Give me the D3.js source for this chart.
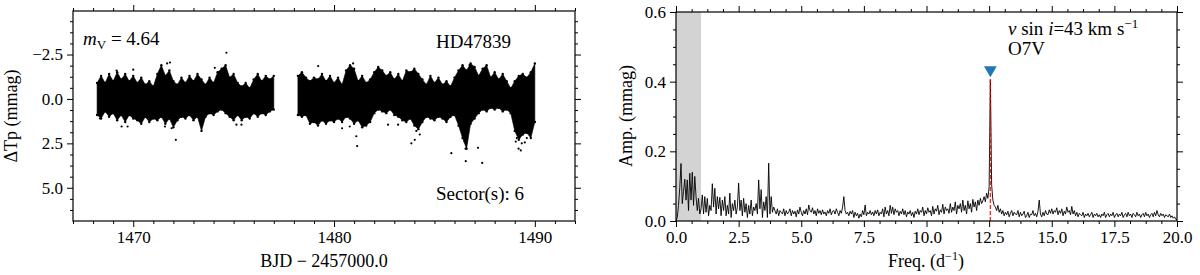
<!DOCTYPE html>
<html>
<head>
<meta charset="utf-8">
<script src="https://cdn.jsdelivr.net/npm/d3@7"></script>
<style>
body { margin: 0; background: #fff; }
svg text { font-family: "Liberation Serif", "DejaVu Serif", serif; fill: #000; }
.tick line { stroke: #000; stroke-width: 1; }
</style>
</head>
<body>
<svg id="fig" width="1200" height="275"></svg>
<script>
let binStep = 0.2
let seg1Start = 1468.2
let seg1Hi = [-0.9, -1.3, -0.9, -1.4, -1.0, -1.5, -1.1, -1.4, -1.0, -1.3,
    -0.9, -1.2, -0.8, -1.0, -0.7, -1.4, -1.9, -1.3, -1.6, -1.0,
    -0.8, -1.2, -0.9, -1.3, -1.0, -1.4, -1.1, -0.8, -1.2, -0.9,
    -1.5, -1.7, -1.9, -1.2, -1.4, -0.9, -0.7, -0.9, -0.6, -1.1,
    -1.4, -1.0, -1.3, -1.1, -1.3]
let seg1Lo = [0.9, 1.1, 0.7, 1.0, 0.8, 1.2, 0.9, 1.3, 0.9, 1.1,
    1.2, 1.4, 1.0, 1.3, 1.1, 1.2, 1.0, 1.4, 1.1, 1.6,
    1.2, 1.0, 1.1, 0.9, 1.2, 1.0, 1.8, 1.0, 0.8, 0.9,
    0.7, 0.6, 0.8, 1.0, 1.2, 0.9, 1.2, 1.0, 1.1, 0.8,
    1.0, 0.8, 0.9, 0.7, 0.6]
let seg2Start = 1478.2
let seg2Hi = [-1.3, -1.5, -1.2, -1.0, -1.2, -1.1, -1.4, -1.0, -1.3, -0.9,
    -1.2, -0.8, -1.6, -1.9, -1.7, -1.0, -1.3, -0.9, -1.1, -1.5,
    -1.8, -1.6, -1.3, -1.5, -1.1, -1.4, -1.0, -1.6, -1.5, -1.7,
    -1.4, -1.1, -0.8, -1.3, -0.9, -1.2, -0.8, -1.0, -0.7, -1.2,
    -1.6, -1.9, -1.6, -2.0, -1.8, -1.3, -1.7, -1.9, -1.2, -1.5,
    -1.1, -1.4, -1.0, -0.6, -1.0, -1.3, -1.4, -1.2, -1.5, -2.0]
let seg2Lo = [0.9, 1.0, 0.9, 1.4, 1.3, 1.5, 1.2, 1.4, 1.2, 1.3,
    1.1, 1.3, 1.0, 1.1, 1.4, 1.2, 1.6, 1.5, 1.3, 0.8,
    0.6, 0.7, 0.8, 0.6, 0.9, 1.0, 1.2, 1.3, 1.1, 1.5,
    1.7, 1.3, 1.0, 1.1, 1.2, 1.0, 1.1, 1.3, 1.0, 0.9,
    1.5, 2.2, 2.8, 1.4, 1.1, 0.8, 0.6, 0.7, 0.5, 0.6,
    0.5, 0.7, 0.6, 0.8, 1.8, 2.3, 2.0, 1.9, 2.2, 1.3]
// isolated points outside the cloud
let outT = [1468.34, 1469.17, 1469.42, 1469.72, 1470.0, 1471.58, 1471.69, 1471.83, 1471.91, 1472.12, 1474.06, 1474.64, 1475.14, 1475.39,
    1479.21, 1480.4, 1480.78, 1480.95, 1481.11, 1481.15, 1482.69, 1483.19, 1483.85, 1484.02, 1484.1, 1484.27, 1485.84,
    1486.5, 1486.55, 1486.56, 1486.75, 1487.17, 1487.38, 1489.05, 1489.1, 1489.19, 1489.3, 1489.35, 1489.5, 1489.6]
let outV = [1.1, -1.6, 1.55, 1.55, -1.65, 1.55, -2.0, -2.05, 1.65, 2.3, -1.75, -2.6, 1.45, 1.45,
    -1.85, 1.65, 1.55, -2.0, 2.1, 2.65, 1.45, 1.45, 2.5, 2.3, 1.8, 2.0, 3.05,
    2.4, 2.8, 3.5, -1.9, 2.75, 3.6, 2.4, 2.2, 2.8, 2.9, 2.5, 2.45, 2.2]

// amplitude spectrum, 0.05 d^-1 grid from 0 to 20, mmag
let freqStep = 0.05
let amp = [
    0.000, 0.010, 0.045, 0.095, 0.165, 0.050, 0.085, 0.120, 0.060, 0.118, 0.030, 0.137, 0.060, 0.140, 0.045, 0.128, 0.070, 0.030, 0.065, 0.020,
    0.035, 0.075, 0.020, 0.070, 0.025, 0.065, 0.015, 0.045, 0.030, 0.107, 0.040, 0.094, 0.020, 0.070, 0.035, 0.068, 0.015, 0.060, 0.030, 0.070,
    0.015, 0.045, 0.020, 0.080, 0.010, 0.050, 0.030, 0.060, 0.020, 0.040, 0.109, 0.030, 0.060, 0.015, 0.065, 0.025, 0.050, 0.010, 0.045, 0.020,
    0.060, 0.015, 0.040, 0.030, 0.050, 0.020, 0.118, 0.035, 0.090, 0.010, 0.055, 0.030, 0.070, 0.010, 0.166, 0.020, 0.070, 0.025, 0.040, 0.030,
    0.020, 0.035, 0.015, 0.030, 0.025, 0.020, 0.035, 0.015, 0.030, 0.020, 0.025, 0.035, 0.015, 0.030, 0.020, 0.028, 0.012, 0.032, 0.020, 0.040,
    0.025, 0.015, 0.030, 0.020, 0.035, 0.018, 0.046, 0.030, 0.025, 0.038, 0.020, 0.030, 0.015, 0.035, 0.022, 0.030, 0.018, 0.032, 0.020, 0.026,
    0.015, 0.030, 0.022, 0.035, 0.018, 0.028, 0.030, 0.020, 0.035, 0.025, 0.015, 0.030, 0.022, 0.040, 0.070, 0.030, 0.020, 0.025, 0.015, 0.028,
    0.020, 0.030, 0.010, 0.025, 0.015, 0.022, 0.008, 0.020, 0.012, 0.030, 0.018, 0.046, 0.015, 0.025, 0.020, 0.030, 0.018, 0.026, 0.015, 0.030,
    0.020, 0.032, 0.015, 0.025, 0.020, 0.035, 0.012, 0.040, 0.020, 0.030, 0.015, 0.045, 0.022, 0.040, 0.018, 0.035, 0.025, 0.030, 0.015, 0.028,
    0.020, 0.035, 0.018, 0.030, 0.012, 0.026, 0.020, 0.030, 0.015, 0.025, 0.010, 0.028, 0.020, 0.035, 0.018, 0.030, 0.025, 0.040, 0.015, 0.030,
    0.020, 0.038, 0.025, 0.030, 0.015, 0.042, 0.020, 0.035, 0.028, 0.045, 0.018, 0.032, 0.025, 0.048, 0.020, 0.040, 0.030, 0.035, 0.022, 0.050,
    0.025, 0.040, 0.030, 0.055, 0.020, 0.045, 0.035, 0.050, 0.025, 0.060, 0.030, 0.045, 0.020, 0.058, 0.035, 0.050, 0.025, 0.062, 0.040, 0.055,
    0.030, 0.060, 0.045, 0.065, 0.050, 0.058, 0.070, 0.055, 0.080, 0.065, 0.098, 0.405, 0.104, 0.060, 0.045, 0.040, 0.030, 0.045, 0.025, 0.035,
    0.020, 0.030, 0.015, 0.025, 0.018, 0.028, 0.012, 0.022, 0.030, 0.015, 0.025, 0.020, 0.018, 0.030, 0.012, 0.025, 0.015, 0.020, 0.028, 0.010,
    0.015, 0.025, 0.010, 0.020, 0.018, 0.030, 0.015, 0.022, 0.012, 0.028, 0.060, 0.020, 0.012, 0.025, 0.015, 0.030, 0.020, 0.018, 0.032, 0.022,
    0.035, 0.020, 0.030, 0.025, 0.038, 0.018, 0.030, 0.022, 0.035, 0.015, 0.028, 0.020, 0.040, 0.025, 0.030, 0.018, 0.042, 0.020, 0.030, 0.015,
    0.025, 0.012, 0.022, 0.018, 0.015, 0.025, 0.010, 0.020, 0.015, 0.022, 0.012, 0.018, 0.025, 0.010, 0.020, 0.015, 0.022, 0.012, 0.018, 0.010,
    0.020, 0.015, 0.025, 0.010, 0.018, 0.022, 0.012, 0.020, 0.015, 0.025, 0.010, 0.018, 0.022, 0.012, 0.020, 0.015, 0.025, 0.010, 0.018, 0.022,
    0.012, 0.025, 0.015, 0.020, 0.010, 0.022, 0.018, 0.012, 0.025, 0.015, 0.020, 0.010, 0.018, 0.022, 0.012, 0.025, 0.015, 0.020, 0.010, 0.018,
    0.022, 0.012, 0.025, 0.015, 0.030, 0.018, 0.012, 0.022, 0.015, 0.020, 0.010, 0.018, 0.015, 0.012, 0.020, 0.010, 0.015, 0.008, 0.012, 0.005,
    0.005]
let peakFreq = 12.55
let peakAmp = 0.413
let maskEnd = 1.0

// ticks
let lcXTicks = [1470, 1480, 1490]
let lcYTicks = [-2.5, 0, 2.5, 5]
let pgXTicks = [0, 2.5, 5, 7.5, 10, 12.5, 15, 17.5, 20]
let pgYTicks = [0, 0.2, 0.4, 0.6]

let serif = '"Liberation Serif", "DejaVu Serif", serif'
let svg = d3.select('#fig')

function minorTicks(scale, step, majors) {
    let d = scale.domain()
    let lo = Math.min(d[0], d[1]), hi = Math.max(d[0], d[1])
    return d3.range(Math.ceil(lo / step) * step, hi + 1e-9, step)
        .filter(v => !majors.some(m => Math.abs(m - v) < 1e-6))
}

function drawFrame(g, x, y, xt, xstep, xf, yt, ystep, yf) {
    let x0 = d3.min(x.range()), x1 = d3.max(x.range())
    let y0 = d3.min(y.range()), y1 = d3.max(y.range())
    let xm = minorTicks(x, xstep, xt)
    let ym = minorTicks(y, ystep, yt)
    let ax = g.append('g')
    // bottom and left carry the labels
    ax.append('g').attr('transform', 'translate(0,' + y1 + ')')
        .call(d3.axisBottom(x).tickValues(xt).tickFormat(xf).tickSize(6).tickPadding(4))
    ax.append('g').attr('transform', 'translate(0,' + y1 + ')')
        .call(d3.axisBottom(x).tickValues(xm).tickFormat('').tickSize(3))
    ax.append('g').attr('transform', 'translate(0,' + y0 + ')')
        .call(d3.axisTop(x).tickValues(xt).tickFormat('').tickSize(6))
    ax.append('g').attr('transform', 'translate(0,' + y0 + ')')
        .call(d3.axisTop(x).tickValues(xm).tickFormat('').tickSize(3))
    ax.append('g').attr('transform', 'translate(' + x0 + ',0)')
        .call(d3.axisLeft(y).tickValues(yt).tickFormat(yf).tickSize(6).tickPadding(4))
    ax.append('g').attr('transform', 'translate(' + x0 + ',0)')
        .call(d3.axisLeft(y).tickValues(ym).tickFormat('').tickSize(3))
    ax.append('g').attr('transform', 'translate(' + x1 + ',0)')
        .call(d3.axisRight(y).tickValues(yt).tickFormat('').tickSize(6))
    ax.append('g').attr('transform', 'translate(' + x1 + ',0)')
        .call(d3.axisRight(y).tickValues(ym).tickFormat('').tickSize(3))
    ax.selectAll('.domain').remove()
    ax.selectAll('g').attr('font-family', null).attr('font-size', null)
    ax.selectAll('.tick text')
        .style('font-family', serif)
        .style('font-size', '17px')
    ax.append('rect')
        .attr('x', x0).attr('y', y0)
        .attr('width', x1 - x0).attr('height', y1 - y0)
        .attr('fill', 'none').attr('stroke', '#000').attr('stroke-width', 1.2)
}

// ---------- left panel: light curve ----------
let xL = d3.scaleLinear().domain([1467, 1492]).range([73, 575])
let yL = d3.scaleLinear().domain([-4.95, 6.87]).range([11, 221])
let gL = svg.append('g')

let band = d3.area()
    .x(d => xL(d.t))
    .y0(d => yL(d.lo))
    .y1(d => yL(d.hi))
    .curve(d3.curveLinear)

let segs = [[seg1Start, seg1Hi, seg1Lo], [seg2Start, seg2Hi, seg2Lo]]
segs.forEach(s => {
    let rows = s[1].map((h, i) => ({ t: s[0] + i * binStep, hi: h, lo: s[2][i] }))
    gL.append('path')
        .datum(rows)
        .attr('d', band)
        .attr('fill', '#000')
        .attr('stroke', '#000')
        .attr('stroke-width', 0.6)
    // edge points of each bin, to keep the cloud ragged
    gL.selectAll(null)
        .data(rows.flatMap(d => [{ t: d.t, v: d.hi }, { t: d.t, v: d.lo }]))
        .enter().append('circle')
        .attr('cx', d => xL(d.t))
        .attr('cy', d => yL(d.v))
        .attr('r', 1.2)
        .attr('fill', '#000')
})

gL.selectAll('.outlier')
    .data(outT.map((t, i) => ({ t: t, v: outV[i] })))
    .enter().append('circle')
    .attr('class', 'outlier')
    .attr('cx', d => xL(d.t))
    .attr('cy', d => yL(d.v))
    .attr('r', 1.1)
    .attr('fill', '#000')

drawFrame(gL, xL, yL, lcXTicks, 1, d3.format('d'), lcYTicks, 0.625, d3.format('.1f'))

gL.append('text')
    .attr('x', 83).attr('y', 45)
    .attr('font-size', 19)
    .call(t => {
        t.append('tspan').attr('font-style', 'italic').text('m')
        t.append('tspan').attr('font-size', 13).attr('dy', 4).text('V')
        t.append('tspan').attr('dy', -4).text(' = 4.64')
    })
gL.append('text').attr('x', 436).attr('y', 48).attr('font-size', 19).text('HD47839')
gL.append('text').attr('x', 436).attr('y', 200).attr('font-size', 19).text('Sector(s): 6')
gL.append('text')
    .attr('x', 324).attr('y', 267)
    .attr('text-anchor', 'middle').attr('font-size', 18)
    .text('BJD \u2212 2457000.0')
gL.append('text')
    .attr('transform', 'translate(17,116) rotate(-90)')
    .attr('text-anchor', 'middle').attr('font-size', 18)
    .text('\u0394Tp (mmag)')

// ---------- right panel: amplitude spectrum ----------
let xR = d3.scaleLinear().domain([0, 20]).range([676, 1177])
let yR = d3.scaleLinear().domain([0, 0.6]).range([221, 12])
let gR = svg.append('g')

gR.append('rect')
    .attr('x', xR(0)).attr('y', yR(0.6))
    .attr('width', xR(maskEnd) - xR(0))
    .attr('height', yR(0) - yR(0.6))
    .attr('fill', '#d3d3d3')

let spec = amp.map((a, i) => ({ f: i * freqStep, a: a }))
gR.append('path')
    .datum(spec)
    .attr('d', d3.line().x(d => xR(d.f)).y(d => yR(d.a)))
    .attr('fill', 'none')
    .attr('stroke', '#000')
    .attr('stroke-width', 0.9)

gR.append('line')
    .attr('x1', xR(peakFreq)).attr('x2', xR(peakFreq))
    .attr('y1', yR(0)).attr('y2', yR(peakAmp))
    .attr('stroke', 'red')
    .attr('stroke-opacity', 0.85)
    .attr('stroke-width', 1.4)
    .attr('stroke-dasharray', '4,2')

gR.append('path')
    .attr('d', d3.symbol().type(d3.symbolTriangle).size(70))
    .attr('transform', 'translate(' + xR(peakFreq) + ',' + yR(peakAmp * 1.05) + ') rotate(180)')
    .attr('fill', '#1f77b4')

drawFrame(gR, xR, yR, pgXTicks, 0.625, d3.format('.1f'), pgYTicks, 0.05, d3.format('.1f'))

gR.append('text')
    .attr('x', 1008).attr('y', 35)
    .attr('font-size', 19)
    .call(t => {
        t.append('tspan').attr('font-style', 'italic').text('v')
        t.append('tspan').text(' sin ')
        t.append('tspan').attr('font-style', 'italic').text('i')
        t.append('tspan').text('=43 km s')
        t.append('tspan').attr('font-size', 13).attr('dy', -7).text('\u22121')
    })
gR.append('text').attr('x', 1008).attr('y', 55).attr('font-size', 19).text('O7V')
gR.append('text')
    .attr('x', 926).attr('y', 267)
    .attr('text-anchor', 'middle').attr('font-size', 18)
    .call(t => {
        t.append('tspan').text('Freq. (d')
        t.append('tspan').attr('font-size', 12).attr('dy', -7).text('\u22121')
        t.append('tspan').attr('dy', 7).text(')')
    })
gR.append('text')
    .attr('transform', 'translate(632,116) rotate(-90)')
    .attr('text-anchor', 'middle').attr('font-size', 18)
    .text('Amp. (mmag)')
</script>
</body>
</html>
